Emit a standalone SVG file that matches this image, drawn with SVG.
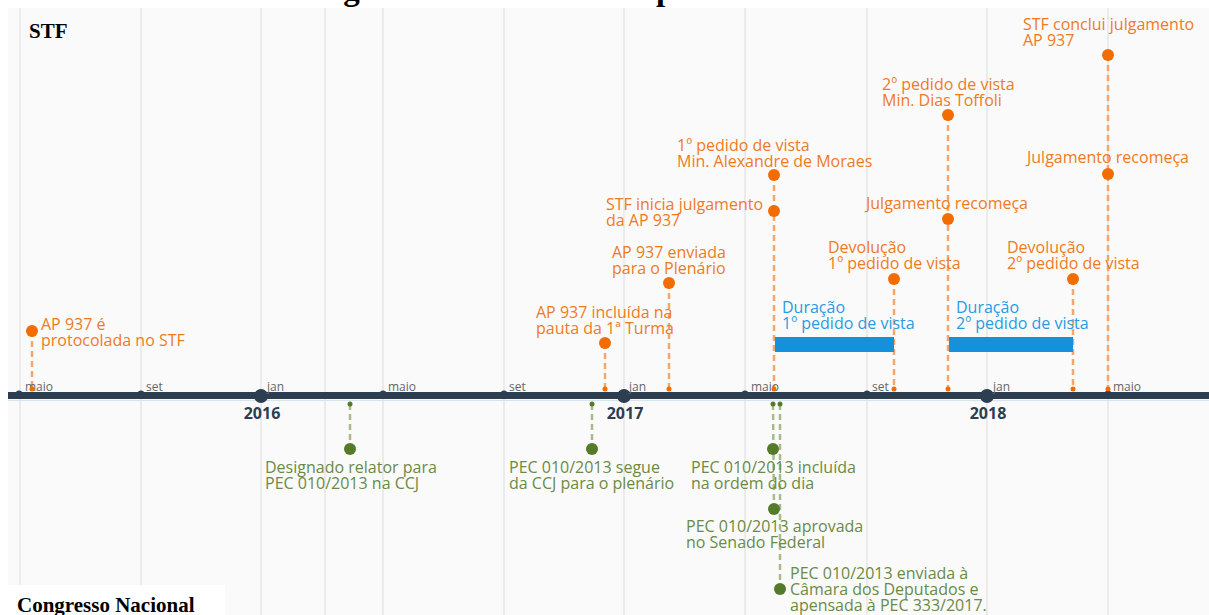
<svg xmlns="http://www.w3.org/2000/svg" width="1209" height="615" viewBox="0 0 1209 615">
<style>
.grid{stroke:#e6e6e6;stroke-width:1.5}
.axis{stroke:#2c3e50;stroke-width:7}
.tick{fill:#2c3e50}
.mon{font-family:"Open Sans","Liberation Sans",sans-serif;font-size:12px;fill:#666}
.yr{font-family:"Open Sans","Liberation Sans",sans-serif;font-size:16px;font-weight:bold;fill:#2c3e50;text-anchor:middle}
.ot{font-family:"Open Sans","Liberation Sans",sans-serif;font-size:16px;fill:#ef7a1f}
.gt{font-family:"Open Sans","Liberation Sans",sans-serif;font-size:16px;fill:#6a8a45}
.bt{font-family:"Open Sans","Liberation Sans",sans-serif;font-size:16px;fill:#2a9be0}
.od{fill:#f26c00}
.gd{fill:#547a2a}
.bar{fill:#1591dc}
.oc{stroke:#f5a66c;stroke-width:2.5;stroke-dasharray:6 4;fill:none}
.gc{stroke:#a9ba8c;stroke-width:2.5;stroke-dasharray:6 4;fill:none}
.lbl{font-family:"Liberation Serif","Times New Roman",serif;font-weight:bold;fill:#000}
</style>
<rect x="0" y="0" width="1209" height="615" fill="#ffffff"/>
<rect x="8" y="8" width="1201" height="607" fill="#fafafa"/>
<text class="lbl" x="314" y="0" font-size="33">Figura 3 – Linha do tempo: Caso AP 937</text>
<g id="grid">
<line class="grid" x1="20" y1="8" x2="20" y2="615"/>
<line class="grid" x1="141" y1="8" x2="141" y2="615"/>
<line class="grid" x1="261" y1="8" x2="261" y2="615"/>
<line class="grid" x1="325" y1="8" x2="325" y2="615"/>
<line class="grid" x1="383" y1="8" x2="383" y2="615"/>
<line class="grid" x1="504" y1="8" x2="504" y2="615"/>
<line class="grid" x1="624" y1="8" x2="624" y2="615"/>
<line class="grid" x1="745" y1="8" x2="745" y2="615"/>
<line class="grid" x1="867" y1="8" x2="867" y2="615"/>
<line class="grid" x1="987" y1="8" x2="987" y2="615"/>
<line class="grid" x1="1108" y1="8" x2="1108" y2="615"/>
</g>
<rect x="8" y="585" width="217" height="30" fill="#ffffff"/>
<text class="lbl" x="29" y="38" font-size="21">STF</text>
<text class="lbl" x="17" y="612" font-size="21">Congresso Nacional</text>

<g id="connectors">
<line class="oc" x1="32" y1="331" x2="32" y2="389"/>
<line class="oc" x1="605" y1="343" x2="605" y2="389"/>
<line class="oc" x1="669" y1="283" x2="669" y2="389"/>
<line class="oc" x1="774" y1="175" x2="774" y2="389"/>
<line class="oc" x1="948" y1="115" x2="948" y2="389"/>
<line class="oc" x1="1108" y1="55" x2="1108" y2="389"/>
<line class="oc" x1="894" y1="279" x2="894" y2="389"/>
<line class="oc" x1="1073" y1="279" x2="1073" y2="389"/>
<line class="gc" x1="350" y1="404" x2="350" y2="449"/>
<line class="gc" x1="592" y1="404" x2="592" y2="449"/>
<line class="gc" x1="773" y1="404" x2="774" y2="509"/>
<line class="gc" x1="780" y1="404" x2="780" y2="589"/>
</g>

<g id="axis">
<line class="axis" x1="8" y1="395.5" x2="1209" y2="395.5"/>
<line x1="8" y1="400.5" x2="1209" y2="400.5" stroke="#d6e4ee" stroke-width="1"/>
<circle class="tick" cx="19" cy="394" r="3.5"/>
<circle class="tick" cx="141" cy="394" r="3.5"/>
<circle class="tick" cx="261" cy="396" r="7"/>
<circle class="tick" cx="383" cy="394" r="3.5"/>
<circle class="tick" cx="504" cy="394" r="3.5"/>
<circle class="tick" cx="624" cy="396" r="7"/>
<circle class="tick" cx="745" cy="394" r="3.5"/>
<circle class="tick" cx="867" cy="394" r="3.5"/>
<circle class="tick" cx="987" cy="396" r="7"/>
<circle class="tick" cx="1108" cy="394" r="3.5"/>
<text class="mon" x="25" y="391">maio</text>
<text class="mon" x="146" y="391">set</text>
<text class="mon" x="267" y="391">jan</text>
<text class="mon" x="388" y="391">maio</text>
<text class="mon" x="509" y="391">set</text>
<text class="mon" x="629" y="391">jan</text>
<text class="mon" x="751" y="391">maio</text>
<text class="mon" x="872" y="391">set</text>
<text class="mon" x="993" y="391">jan</text>
<text class="mon" x="1113" y="391">maio</text>
<text class="yr" x="262" y="419">2016</text>
<text class="yr" x="625" y="419">2017</text>
<text class="yr" x="988" y="419">2018</text>
</g>

<g id="axis-markers">
<circle class="od" cx="32" cy="389" r="2.5"/>
<circle class="od" cx="605" cy="389" r="2.5"/>
<circle class="od" cx="669" cy="389" r="2.5"/>
<circle class="od" cx="774" cy="389" r="2.5"/>
<circle class="od" cx="894" cy="389" r="2.5"/>
<circle class="od" cx="948" cy="389" r="2.5"/>
<circle class="od" cx="1073" cy="389" r="2.5"/>
<circle class="od" cx="1108" cy="389" r="2.5"/>
<circle class="gd" cx="350" cy="404" r="2.5"/>
<circle class="gd" cx="592" cy="404" r="2.5"/>
<circle class="gd" cx="773" cy="404" r="2.5"/>
<circle class="gd" cx="780" cy="404" r="2.5"/>
</g>

<g id="stf-protocolada">
<circle class="od" cx="32" cy="331" r="6"/>
<text class="ot" x="41" y="330">AP 937 é</text>
<text class="ot" x="41" y="346">protocolada no STF</text>
</g>
<g id="stf-pauta">
<circle class="od" cx="605" cy="343" r="6"/>
<text class="ot" x="536" y="318">AP 937 incluída na</text>
<text class="ot" x="536" y="334">pauta da 1ª Turma</text>
</g>
<g id="stf-plenario">
<circle class="od" cx="669" cy="283" r="6"/>
<text class="ot" x="612" y="258">AP 937 enviada</text>
<text class="ot" x="612" y="274">para o Plenário</text>
</g>
<g id="stf-inicia">
<circle class="od" cx="774" cy="211" r="6"/>
<text class="ot" x="606" y="210">STF inicia julgamento</text>
<text class="ot" x="606" y="226">da AP 937</text>
</g>
<g id="stf-vista1">
<circle class="od" cx="774" cy="175" r="6"/>
<text class="ot" x="677" y="151">1º pedido de vista</text>
<text class="ot" x="677" y="167">Min. Alexandre de Moraes</text>
</g>
<g id="stf-vista2">
<circle class="od" cx="948" cy="115" r="6"/>
<text class="ot" x="882" y="90">2º pedido de vista</text>
<text class="ot" x="882" y="106">Min. Dias Toffoli</text>
</g>
<g id="stf-conclui">
<circle class="od" cx="1108" cy="55" r="6"/>
<text class="ot" x="1023" y="30">STF conclui julgamento</text>
<text class="ot" x="1023" y="46">AP 937</text>
</g>
<g id="stf-recomeca2">
<circle class="od" cx="1108" cy="174" r="6"/>
<text class="ot" x="1027" y="163">Julgamento recomeça</text>
</g>
<g id="stf-recomeca1">
<circle class="od" cx="948" cy="219" r="6"/>
<text class="ot" x="866" y="209">Julgamento recomeça</text>
</g>
<g id="stf-devolucao1">
<circle class="od" cx="894" cy="279" r="6"/>
<text class="ot" x="828" y="253">Devolução</text>
<text class="ot" x="828" y="269">1º pedido de vista</text>
</g>
<g id="stf-devolucao2">
<circle class="od" cx="1073" cy="279" r="6"/>
<text class="ot" x="1007" y="253">Devolução</text>
<text class="ot" x="1007" y="269">2º pedido de vista</text>
</g>
<g id="duracao1">
<rect class="bar" x="775" y="337" width="119" height="15"/>
<text class="bt" x="782" y="313">Duração</text>
<text class="bt" x="782" y="329">1º pedido de vista</text>
</g>
<g id="duracao2">
<rect class="bar" x="949" y="337" width="124" height="15"/>
<text class="bt" x="956" y="313">Duração</text>
<text class="bt" x="956" y="329">2º pedido de vista</text>
</g>

<g id="cn-relator">
<circle class="gd" cx="350" cy="449" r="6"/>
<text class="gt" x="265" y="473">Designado relator para</text>
<text class="gt" x="265" y="489">PEC 010/2013 na CCJ</text>
</g>
<g id="cn-segue">
<circle class="gd" cx="592" cy="449" r="6"/>
<text class="gt" x="509" y="473">PEC 010/2013 segue</text>
<text class="gt" x="509" y="489">da CCJ para o plenário</text>
</g>
<g id="cn-ordem">
<circle class="gd" cx="773" cy="449" r="6"/>
<text class="gt" x="691" y="473">PEC 010/2013 incluída</text>
<text class="gt" x="691" y="489">na ordem do dia</text>
</g>
<g id="cn-aprovada">
<circle class="gd" cx="774" cy="509" r="6"/>
<text class="gt" x="686" y="532">PEC 010/2013 aprovada</text>
<text class="gt" x="686" y="548">no Senado Federal</text>
</g>
<g id="cn-enviada">
<circle class="gd" cx="780" cy="589" r="6"/>
<text class="gt" x="790" y="579">PEC 010/2013 enviada à</text>
<text class="gt" x="790" y="595">Câmara dos Deputados e</text>
<text class="gt" x="790" y="611">apensada à PEC 333/2017.</text>
</g>
</svg>
